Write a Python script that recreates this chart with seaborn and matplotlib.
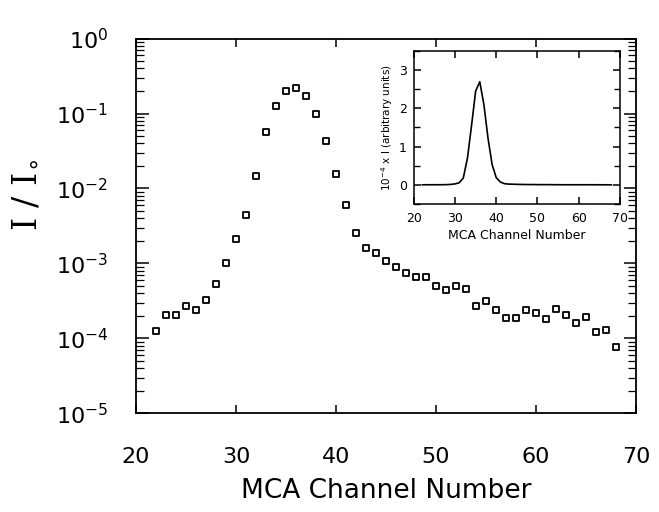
import matplotlib
matplotlib.use("Agg")
import matplotlib.pyplot as plt
import seaborn as sns
import pandas as pd
from matplotlib.ticker import LogLocator, NullFormatter, MultipleLocator

# Data
channels = list(range(22, 69))
ratio = [1.27e-4, 2.06e-4, 2.06e-4, 2.74e-4, 2.40e-4, 3.26e-4, 5.28e-4, 1.01e-3,
         2.10e-3, 4.39e-3, 1.47e-2, 5.67e-2, 0.127, 0.201, 0.221, 0.172,
         0.100, 0.0433, 0.0154, 6.03e-3, 2.53e-3, 1.61e-3, 1.39e-3, 1.08e-3,
         8.98e-4, 7.40e-4, 6.55e-4, 6.55e-4, 5.06e-4, 4.43e-4, 5.06e-4, 4.53e-4,
         2.71e-4, 3.16e-4, 2.40e-4, 1.88e-4, 1.88e-4, 2.40e-4, 2.17e-4, 1.82e-4,
         2.47e-4, 2.06e-4, 1.59e-4, 1.95e-4, 1.23e-4, 1.30e-4, 7.78e-5]
i0_counts = 1.22e5  # incident intensity, inset shows 10^-4 x I

x_ticks = [20, 30, 40, 50, 60, 70]
y_ticks = [1e-5, 1e-4, 1e-3, 1e-2, 1e-1, 1e0]
y_ticklabels = [r"$10^{-5}$", r"$10^{-4}$", r"$10^{-3}$", r"$10^{-2}$", r"$10^{-1}$", r"$10^{0}$"]
inset_yticks = [0, 1, 2, 3]

df = pd.DataFrame({"channel": channels, "ratio": ratio})
df["counts"] = df["ratio"] * i0_counts * 1e-4

sns.set_style("ticks")
plt.rcParams["font.family"] = ["DejaVu Sans"]
plt.rcParams.update({"text.color": "black", "axes.labelcolor": "black",
                     "xtick.color": "black", "ytick.color": "black",
                     "xtick.direction": "in", "ytick.direction": "in",
                     "xtick.top": True, "ytick.right": True})

fig = plt.figure(figsize=(6.59, 5.12), dpi=100)
ax = fig.add_axes([0.2064, 0.1924, 0.7587, 0.7324])

sns.scatterplot(data=df, x="channel", y="ratio", ax=ax, marker="s", s=22,
                facecolor="white", edgecolor="black", linewidth=1.3, zorder=3)
ax.set_yscale("log")
ax.set_xlim(20, 70)
ax.set_ylim(1e-5, 1e0)
ax.set_xticks(x_ticks)
ax.set_xticklabels([str(t) for t in x_ticks])
ax.set_yticks(y_ticks)
ax.set_yticklabels(y_ticklabels)
ax.yaxis.set_minor_locator(LogLocator(base=10, subs=range(2, 10), numticks=20))
ax.yaxis.set_minor_formatter(NullFormatter())
ax.tick_params(which="both", direction="in", top=True, right=True, color="black")
ax.tick_params(axis="x", which="major", length=6, width=1.1, labelsize=16, pad=24)
ax.tick_params(axis="y", which="major", length=9, width=1.1, labelsize=16, pad=20)
ax.tick_params(axis="y", which="minor", length=6, width=0.9)
for sp in ax.spines.values():
    sp.set_linewidth(1.3)
    sp.set_color("black")
ax.set_xlabel("MCA Channel Number", fontsize=19, labelpad=8)
ax.set_ylabel(r"I / I$_{\circ}$", fontsize=24, family=["DejaVu Serif"])
ax.yaxis.set_label_coords(-0.19, 0.583)

# Inset: linear counts
ins = fig.add_axes([0.628, 0.6016, 0.3126, 0.2988])
sns.lineplot(data=df, x="channel", y="counts", ax=ins, color="black", linewidth=1.2)
ins.set_xlim(20, 70)
ins.set_ylim(-0.5, 3.5)
ins.set_xticks(x_ticks)
ins.set_xticklabels([str(t) for t in x_ticks])
ins.set_yticks(inset_yticks)
ins.set_yticklabels([str(t) for t in inset_yticks])
ins.yaxis.set_minor_locator(MultipleLocator(0.5))
ins.tick_params(which="both", direction="in", top=True, right=True,
                bottom=True, left=True, color="black", labelsize=9)
ins.tick_params(which="major", length=5, width=1.1)
ins.tick_params(which="minor", length=4, width=1.0)
ins.tick_params(axis="x", pad=6)
ins.tick_params(axis="y", pad=5)
for sp in ins.spines.values():
    sp.set_linewidth(1.1)
    sp.set_color("black")
ins.set_xlabel("MCA Channel Number", fontsize=9, labelpad=3)
ins.set_ylabel(r"10$^{-4}$ x I (arbitrary units)", fontsize=7.5, labelpad=3)

fig.savefig("out.png", dpi=100)
